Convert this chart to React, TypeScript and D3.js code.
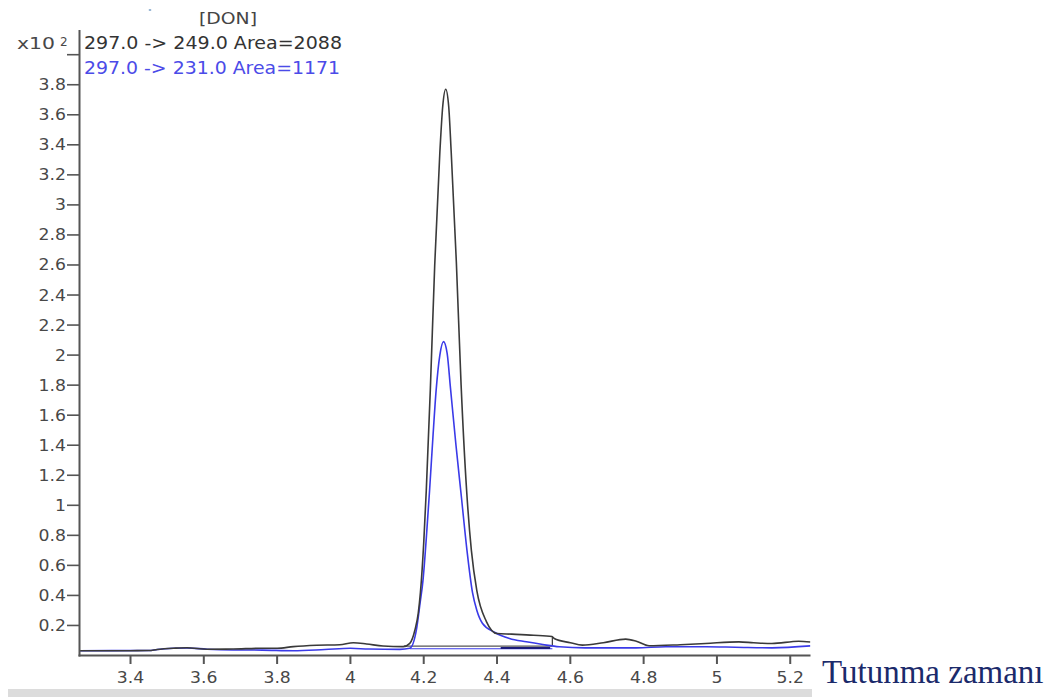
import React from "react";
import * as d3 from "d3";

// Retention time (min) and abundance (x10^2)
const blackTimes = [3.26, 3.3, 3.4, 3.45, 3.473, 3.517, 3.554, 3.609, 3.68, 3.754, 3.8, 3.844, 3.908, 3.971, 4.008, 4.044, 4.089, 4.144, 4.162, 4.176, 4.185, 4.191, 4.2, 4.207, 4.218, 4.23, 4.244, 4.252, 4.26, 4.268, 4.275, 4.289, 4.302, 4.317, 4.33, 4.345, 4.371, 4.4, 4.44, 4.5, 4.55, 4.556, 4.6, 4.633, 4.69, 4.751, 4.78, 4.815, 4.9, 4.969, 5.06, 5.1, 5.15, 5.223, 5.255];
const blackValues = [0.032, 0.032, 0.032, 0.033, 0.04, 0.048, 0.052, 0.042, 0.043, 0.048, 0.048, 0.059, 0.068, 0.072, 0.085, 0.077, 0.063, 0.059, 0.081, 0.17, 0.28, 0.42, 0.75, 1.1, 1.77, 2.6, 3.35, 3.66, 3.77, 3.66, 3.35, 2.62, 1.8, 1.1, 0.7, 0.43, 0.226, 0.146, 0.142, 0.135, 0.126, 0.113, 0.085, 0.069, 0.085, 0.109, 0.095, 0.065, 0.072, 0.08, 0.091, 0.085, 0.08, 0.095, 0.09];

const blueTimes = [3.26, 3.45, 3.473, 3.517, 3.554, 3.609, 3.68, 3.76, 3.844, 3.93, 4.0, 4.05, 4.135, 4.162, 4.18, 4.19, 4.198, 4.207, 4.216, 4.225, 4.234, 4.244, 4.254, 4.264, 4.273, 4.288, 4.303, 4.318, 4.333, 4.345, 4.36, 4.393, 4.434, 4.48, 4.525, 4.57, 4.64, 4.78, 4.86, 4.97, 5.05, 5.15, 5.255];
const blueValues = [0.032, 0.033, 0.04, 0.048, 0.05, 0.042, 0.037, 0.036, 0.032, 0.04, 0.048, 0.043, 0.041, 0.048, 0.17, 0.348, 0.5, 0.78, 1.1, 1.45, 1.77, 2.0, 2.09, 2.01, 1.78, 1.4, 1.05, 0.7, 0.42, 0.3, 0.215, 0.155, 0.113, 0.091, 0.073, 0.058, 0.051, 0.051, 0.058, 0.058, 0.055, 0.051, 0.064];

// Integration baselines and end marker
const blackBaseTimes = [4.146, 4.551];
const blackBaseValues = [0.063, 0.063];
const blackMarkTimes = [4.551, 4.551];
const blackMarkValues = [0.063, 0.126];
const blueBaseTimes = [4.162, 4.551];
const blueBaseValues = [0.045, 0.045];
const blueDarkTimes = [4.41, 4.545];
const blueDarkValues = [0.05, 0.05];

const xTicks = [3.4, 3.6, 3.8, 4.0, 4.2, 4.4, 4.6, 4.8, 5.0, 5.2];
const xTickLabels = ["3.4", "3.6", "3.8", "4", "4.2", "4.4", "4.6", "4.8", "5", "5.2"];
const yTicks = [0.2, 0.4, 0.6, 0.8, 1.0, 1.2, 1.4, 1.6, 1.8, 2.0, 2.2, 2.4, 2.6, 2.8, 3.0, 3.2, 3.4, 3.6, 3.8, 4.0];
const yTickLabels = ["0.2", "0.4", "0.6", "0.8", "1", "1.2", "1.4", "1.6", "1.8", "2", "2.2", "2.4", "2.6", "2.8", "3", "3.2", "3.4", "3.6", "3.8", ""];

const legendLabels = ["297.0 -> 249.0 Area=2088", "297.0 -> 231.0 Area=1171"];
const title = "[DON]";
const xAxisTitle = "Tutunma zamanı";

const BLACK = "#3a3a3a";
const BLUE = "#3a3ae8";
const AXIS = "#555555";
const LABEL = "#484848";
const FONT = "DejaVu Sans, sans-serif";

export default function App() {
  const x = d3.scaleLinear().domain([3.26, 5.255]).range([79.2, 810.4]);
  const y = d3.scaleLinear().domain([0, 4]).range([655.5, 54.7]);

  const mk = (ts: number[], vs: number[], curve = true) => {
    const line = d3
      .line<number>()
      .x((_, i) => x(ts[i]))
      .y((v) => y(v));
    if (curve) line.curve(d3.curveMonotoneX);
    return line(vs) || "";
  };

  const plotLeft = x(3.26);
  const plotRight = x(5.255);

  return (
    <svg
      width={1057}
      height={697}
      style={{ position: "absolute", left: 0, top: 0, background: "#ffffff" }}
    >
      <rect x={0} y={0} width={1057} height={697} fill="#ffffff" />
      {/* speck */}
      <ellipse cx={150} cy={10} rx={1.4} ry={1} fill="#8fb0d0" />
      {/* title */}
      <text
        x={199}
        y={24}
        fontFamily={FONT}
        fontSize={15}
        fill="#444"
        textLength={58}
        lengthAdjust="spacingAndGlyphs"
      >
        {title}
      </text>
      {/* multiplier */}
      <text x={17} y={49} fontFamily={FONT} fontSize={15} fill={LABEL} textLength={38} lengthAdjust="spacingAndGlyphs">
        x10
      </text>
      <text x={60} y={46} fontFamily={FONT} fontSize={12} fill={LABEL}>
        2
      </text>
      {/* legend */}
      <text x={84} y={49} fontFamily={FONT} fontSize={17} fill="#333" textLength={258} lengthAdjust="spacingAndGlyphs">
        {legendLabels[0]}
      </text>
      <text x={84} y={74} fontFamily={FONT} fontSize={17} fill="#4b4be8" textLength={256} lengthAdjust="spacingAndGlyphs">
        {legendLabels[1]}
      </text>

      {/* curves */}
      <defs>
        <clipPath id="plotclip">
          <rect x={plotLeft} y={30} width={plotRight - plotLeft} height={626} />
        </clipPath>
      </defs>
      <g clipPath="url(#plotclip)" fill="none">
        <path d={mk(blackBaseTimes, blackBaseValues, false)} stroke="#555" strokeWidth={1.2} />
        <path d={mk(blueBaseTimes, blueBaseValues, false)} stroke={BLUE} strokeWidth={1.2} />
        <path d={mk(blueDarkTimes, blueDarkValues, false)} stroke="#1c1c7a" strokeWidth={1.8} />
        <path d={mk(blackMarkTimes, blackMarkValues, false)} stroke="#444" strokeWidth={1.3} />
        <path d={mk(blueTimes, blueValues)} stroke={BLUE} strokeWidth={1.6} strokeLinejoin="round" />
        <path d={mk(blackTimes, blackValues)} stroke={BLACK} strokeWidth={1.6} strokeLinejoin="round" />
      </g>

      {/* y axis */}
      <line x1={79.5} x2={79.5} y1={30} y2={656.5} stroke={AXIS} strokeWidth={2} />
      {yTicks.map((t, i) => (
        <g key={"y" + i}>
          <line x1={67} x2={79.5} y1={y(t)} y2={y(t)} stroke={AXIS} strokeWidth={1.6} />
          {yTickLabels[i] && (
            <g transform={`translate(66,${y(t) + 5.5}) scale(1.15,1)`}>
              <text x={0} y={0} textAnchor="end" fontFamily={FONT} fontSize={15} fill={LABEL}>
                {yTickLabels[i]}
              </text>
            </g>
          )}
        </g>
      ))}

      {/* x axis */}
      <line x1={78.5} x2={810.5} y1={655.5} y2={655.5} stroke={AXIS} strokeWidth={2} />
      {xTicks.map((t, i) => (
        <g key={"x" + i}>
          <line x1={x(t)} x2={x(t)} y1={655.5} y2={664} stroke={AXIS} strokeWidth={2} />
          <g transform={`translate(${x(t)},682.5) scale(1.15,1)`}>
            <text x={0} y={0} textAnchor="middle" fontFamily={FONT} fontSize={15} fill={LABEL}>
              {xTickLabels[i]}
            </text>
          </g>
        </g>
      ))}

      {/* bottom gray bar */}
      <rect x={8} y={689} width={804} height={8} fill="#dcdcdc" />

      {/* axis title */}
      <text x={822} y={683} fontFamily="Liberation Serif, Times New Roman, serif" fontSize={33} fill="#1b2a6b">
        {xAxisTitle}
      </text>
    </svg>
  );
}
